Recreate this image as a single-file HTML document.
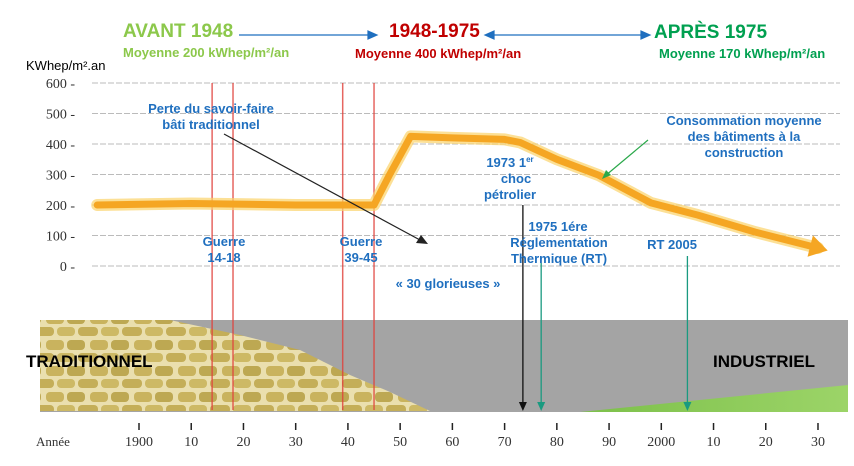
<!DOCTYPE html>
<html><head><meta charset="utf-8"><style>
body{margin:0;background:#fff;font-family:"Liberation Sans",sans-serif}
svg{display:block}
.b{font-weight:bold}
</style></head><body>
<svg id="c" width="854" height="466" viewBox="0 0 854 466">
<defs>
<pattern id="stone" width="44" height="26" patternUnits="userSpaceOnUse">
<rect width="44" height="26" fill="#eadfae"/>
<rect x="2" y="2" width="18" height="10" rx="4" fill="#c9b35e"/>
<rect x="23" y="2" width="18" height="10" rx="4" fill="#bda852"/>
<rect x="-8" y="15" width="18" height="9" rx="4" fill="#c4ae58"/>
<rect x="13" y="15" width="18" height="9" rx="4" fill="#cdb965"/>
<rect x="34" y="15" width="18" height="9" rx="4" fill="#c4ae58"/>
</pattern>
<linearGradient id="grass" x1="0" x2="1"><stop offset="0" stop-color="#7cc04a"/><stop offset="1" stop-color="#9cd468"/></linearGradient>
</defs>
<g id="grid"></g>
<g id="yaxis"></g>
<text x="26" y="70" font-size="13" fill="#000">KWhep/m².an</text>
<g>
<rect x="40" y="320" width="808" height="92" fill="#a4a4a4"/>
<polygon points="40,320 170,320 240,335 300,350 350,375 390,392 430,411 40,411" fill="url(#stone)"/>
<polygon points="580,412 848,385 848,412" fill="url(#grass)"/>
</g>
<text x="26" y="367" font-size="17" class="b" fill="#000">TRADITIONNEL</text>
<text x="713" y="367" font-size="17" class="b" fill="#000">INDUSTRIEL</text>
<g id="events"></g>
<g id="curve"></g>
<g id="xaxis"></g>
<text x="123" y="37" font-size="19" class="b" fill="#8cc84b">AVANT 1948</text>
<text x="123" y="57" font-size="13" class="b" fill="#8cc84b">Moyenne 200 kWhep/m²/an</text>
<text x="389" y="37" font-size="19" class="b" fill="#c00000">1948-1975</text>
<text x="355" y="58" font-size="13" class="b" fill="#c00000">Moyenne 400 kWhep/m²/an</text>
<text x="654" y="38" font-size="19" class="b" fill="#00a050">APRÈS 1975</text>
<text x="659" y="58" font-size="13" class="b" fill="#00a050">Moyenne 170 kWhep/m²/an</text>
<g stroke="#1f6fbf" stroke-width="1.2" fill="#1f6fbf">
<line x1="239" y1="35" x2="372" y2="35"/><polygon points="377,35 368,31 368,39"/>
<line x1="490" y1="35" x2="645" y2="35"/><polygon points="485,35 494,31 494,39"/><polygon points="650,35 641,31 641,39"/>
</g>
<g fill="#1f6fbf" font-size="13" class="b" text-anchor="middle">
<text x="211" y="113">Perte du savoir-faire</text><text x="211" y="129">bâti traditionnel</text>
<text x="224" y="246">Guerre</text><text x="224" y="262">14-18</text>
<text x="361" y="246">Guerre</text><text x="361" y="262">39-45</text>
<text x="510" y="167">1973 1<tspan font-size="8" dy="-5">er</tspan></text>
<text x="516" y="183">choc</text><text x="510" y="199">pétrolier</text>
<text x="558" y="231">1975 1ére</text><text x="559" y="247">Réglementation</text><text x="559" y="263">Thermique (RT)</text>
<text x="672" y="249">RT 2005</text>
<text x="448" y="288">« 30 glorieuses »</text>
<text x="744" y="125">Consommation  moyenne</text><text x="744" y="141">des bâtiments à la</text><text x="744" y="157">construction</text>
</g>
<g>
<line x1="224" y1="134" x2="420" y2="240" stroke="#222" stroke-width="1.2"/>
<polygon points="428,244 416,243 421,235" fill="#222"/>
<line x1="648" y1="140" x2="605" y2="176" stroke="#2aa84a" stroke-width="1.2"/>
<polygon points="602,179 606,170 611,175" fill="#2aa84a"/>
</g>
</svg>
<script>
const yTicks=[0,100,200,300,400,500,600];
const xTickYears=[1900,1910,1920,1930,1940,1950,1960,1970,1980,1990,2000,2010,2020,2030];
const xTickLabels=["1900","10","20","30","40","50","60","70","80","90","2000","10","20","30"];
const curveYears=[1892,1910,1930,1945,1948,1952,1960,1970,1973,1980,1988,1998,2007,2018,2030];
const curveValues=[200,205,200,200,300,425,420,415,405,350,298,207,167,111,59];
const eventYears=[1914,1918,1939,1945];
const markerYears=[1973.5,1977,2005];
const NS="http://www.w3.org/2000/svg";
const X=y=>139+(y-1900)*5.223;
const Y=v=>266-v*0.305;
function mk(tag,at,parent){const e=document.createElementNS(NS,tag);for(const k in at)e.setAttribute(k,at[k]);parent.appendChild(e);return e;}
const grid=document.getElementById('grid'),ya=document.getElementById('yaxis'),xa=document.getElementById('xaxis'),ev=document.getElementById('events'),cv=document.getElementById('curve');
yTicks.forEach(v=>{
 const l=mk('line',{x1:92,x2:840,y1:Y(v),y2:Y(v),stroke:'#bbb','stroke-width':1,'stroke-dasharray':'6,2'},grid);
 
 
 const t=mk('text',{x:75,y:Y(v)+5,'font-size':14,'text-anchor':'end','font-family':'Liberation Serif',fill:'#333'},ya);
 t.textContent=v+' -';
 
 
});
xTickYears.forEach((yr,i)=>{
 const l=mk('line',{x1:X(yr),x2:X(yr),y1:423,y2:430,stroke:'#222','stroke-width':1.5},xa);
 
 
 const t=mk('text',{x:X(yr),y:446,'font-size':14,'text-anchor':'middle','font-family':'Liberation Serif',fill:'#333'},xa);
 t.textContent=xTickLabels[i];
 
 
});
const an=mk('text',{x:36,y:446,'font-size':13,'font-family':'Liberation Serif',fill:'#333'},xa);
an.textContent='Année';


eventYears.forEach(yr=>{
 const l=mk('line',{x1:X(yr),x2:X(yr),y1:83,y2:410,stroke:'#e0403a','stroke-width':1.5,opacity:0.8},ev);
 
 
});
markerYears.forEach((yr,i)=>{
 const c=i==0?'#111':'#1a9a80',top=i==0?205:(i==1?263:256);
 const l=mk('line',{x1:X(yr),x2:X(yr),y1:top,y2:405,stroke:c,'stroke-width':1.3},ev);
 
 
 const p=mk('polygon',{points:`${X(yr)-4},402 ${X(yr)+4},402 ${X(yr)},411`,fill:c},ev);
 
 
});
const pts=curveYears.map((yr,i)=>[X(yr),Y(curveValues[i])]);
const d=pts.map((p,i)=>(i?'L':'M')+p[0].toFixed(1)+','+p[1].toFixed(1)).join(' ');
const glow=mk('path',{d:d,fill:'none',stroke:'#fbd36a','stroke-width':12,'stroke-linejoin':'round','stroke-linecap':'round',opacity:0.7},cv);


const line=mk('path',{d:d,fill:'none',stroke:'#f5a623','stroke-width':7,'stroke-linejoin':'round','stroke-linecap':'round'},cv);


const n=pts.length,a=pts[n-2],b=pts[n-1],ang=Math.atan2(b[1]-a[1],b[0]-a[0]);
const tip=[b[0]+10*Math.cos(ang),b[1]+10*Math.sin(ang)];
const bk=[b[0]-8*Math.cos(ang),b[1]-8*Math.sin(ang)];
const px=-Math.sin(ang)*11,py=Math.cos(ang)*11;
const head=mk('polygon',{points:`${tip[0]},${tip[1]} ${bk[0]+px},${bk[1]+py} ${bk[0]-px},${bk[1]-py}`,fill:'#f5a623'},cv);


</script>
</body></html>
